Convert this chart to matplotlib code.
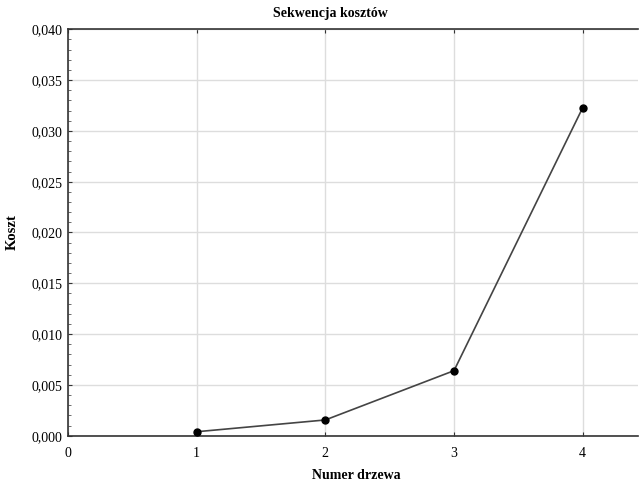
import matplotlib
matplotlib.use("Agg")
import matplotlib.pyplot as plt
from matplotlib.ticker import MultipleLocator, FuncFormatter

# data
tree_no = [1, 2, 3, 4]
cost = [0.00039, 0.00155, 0.0064, 0.03228]

plt.rcParams['font.family'] = ['Liberation Serif', 'DejaVu Serif']

fig = plt.figure(figsize=(6.39, 4.86), dpi=100)
ax = fig.add_axes([68/639, 1-435.7/486, (638-68)/639, (435.7-29.3)/486])

ax.plot(tree_no, cost, color='#444444', lw=1.2, marker='o', ms=5,
        mfc='black', mec='black', zorder=3)

ax.set_xlim(0, 4.43)
ax.set_ylim(0, 0.040)
ax.xaxis.set_major_locator(MultipleLocator(1))
ax.yaxis.set_major_locator(MultipleLocator(0.005))
ax.yaxis.set_minor_locator(MultipleLocator(0.001))
ax.yaxis.set_major_formatter(FuncFormatter(lambda v, p: f"{v:.3f}".replace('.', ',')))
ax.xaxis.set_major_formatter(FuncFormatter(lambda v, p: f"{v:.0f}"))

ax.grid(True, which='major', color='#dddddd', lw=1)
ax.set_axisbelow(True)
ax.tick_params(axis='both', which='major', direction='in', length=3, labelsize=10,
               colors='#333333', labelcolor='black', top=True, pad=4)
ax.tick_params(axis='y', which='minor', direction='in', length=2, colors='#555555')
ax.tick_params(axis='x', pad=8)

for side in ['left', 'bottom', 'top']:
    ax.spines[side].set_color('#333333')
    ax.spines[side].set_linewidth(1.2)
ax.spines['right'].set_visible(False)

# title is centred a bit left of the axes centre in the reference
fig.text(330/639, 1-13/486, 'Sekwencja kosztów', fontsize=10, fontweight='bold',
         ha='center', va='center')
ax.set_xlabel('Numer drzewa', fontsize=10, fontweight='bold')
ax.xaxis.set_label_coords((356-68)/570, -0.082)
ax.set_ylabel('Koszt', fontsize=10.5, fontweight='bold', labelpad=9)

fig.savefig('out.png', dpi=100)
